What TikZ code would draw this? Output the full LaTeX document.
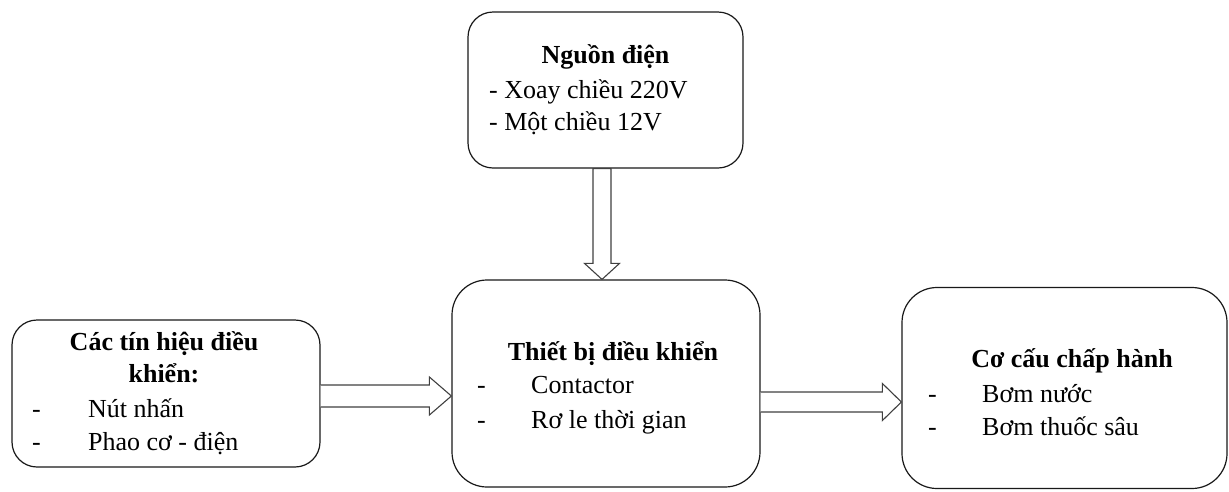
\documentclass[tikz,border=0pt]{standalone}
\usepackage{fontspec}
\setmainfont{Liberation Serif}
\usetikzlibrary{calc}
\newcommand\hfat[5]{%
  \draw[fat] let \p1=(#1), \p2=(#2) in
    (\x1,\y1+#3) -- (\x2-#5,\y1+#3) -- (\x2-#5,\y1+#4) -- (\x2,\y1)
    -- (\x2-#5,\y1-#4) -- (\x2-#5,\y1-#3) -- (\x1,\y1-#3);}
\newcommand\vfat[5]{%
  \draw[fat] let \p1=(#1), \p2=(#2) in
    (\x1-#3,\y1) -- (\x1-#3,\y2+#5) -- (\x1-#4,\y2+#5) -- (\x2,\y2)
    -- (\x1+#4,\y2+#5) -- (\x1+#3,\y2+#5) -- (\x1+#3,\y1) -- cycle;}
\begin{document}
\begin{tikzpicture}[x=1pt,y=-1pt,
  box/.style={draw=black!90, line width=1.2pt, fill=white, inner sep=0pt},
  fat/.style={draw=black!75, line width=1.1pt, fill=white, line join=miter},
  txt/.style={font=\fontsize{26}{33}\selectfont, inner sep=0pt, anchor=base west},
  ttl/.style={font=\fontsize{26}{33}\selectfont\bfseries, inner sep=0pt, anchor=base}]
\useasboundingbox (0,0) rectangle (1229,491);
% boxes
\node[box, rounded corners=25pt, minimum width=275pt, minimum height=156pt] (P) at (605.5,90) {};
\node[box, rounded corners=35pt, minimum width=308pt, minimum height=207pt] (M) at (606,383.5) {};
\node[box, rounded corners=25pt, minimum width=308pt, minimum height=147pt] (L) at (166,393.5) {};
\node[box, rounded corners=35pt, minimum width=325pt, minimum height=201pt] (R) at (1064.5,388) {};
% arrows
\coordinate (pa) at ($(P.south)+(-3.5,0)$);
\coordinate (pb) at ($(M.north)+(-4,0)$);
\vfat{pa}{pb}{9pt}{17.5pt}{16pt}
\coordinate (la) at ($(L.east)+(0,2.5)$);
\coordinate (lb) at (M.west |- la);
\hfat{la}{lb}{11pt}{19pt}{22pt}
\coordinate (ma) at ($(M.east)+(0,18.5)$);
\coordinate (mb) at (R.west |- ma);
\hfat{ma}{mb}{10pt}{18.5pt}{19pt}
% texts
\node[ttl] (p1) at (605.5,63) {Nguồn điện};
\node[txt] (p2) at (489,98) {- Xoay chiều 220V};
\node[txt] (p3) at (489,130) {- Một chiều 12V};
\node[ttl] (m1) at (613,360) {Thiết bị điều khiển};
\node[txt] (m2) at (477,393) {-};
\node[txt] (m3) at (531,393) {Contactor};
\node[txt] (m4) at (477,428) {-};
\node[txt] (m5) at (531,428) {Rơ le thời gian};
\node[ttl] (l1) at (164,350) {Các tín hiệu điều};
\node[ttl] (l2) at (164,382) {khiển:};
\node[txt] (l3) at (32,417) {-};
\node[txt] (l4) at (88,417) {Nút nhấn};
\node[txt] (l5) at (32,450) {-};
\node[txt] (l6) at (88,450) {Phao cơ - điện};
\node[ttl] (r1) at (1072,367) {Cơ cấu chấp hành};
\node[txt] (r2) at (928,402) {-};
\node[txt] (r3) at (982,402) {Bơm nước};
\node[txt] (r4) at (928,435) {-};
\node[txt] (r5) at (982,435) {Bơm thuốc sâu};
\end{tikzpicture}
\end{document}
